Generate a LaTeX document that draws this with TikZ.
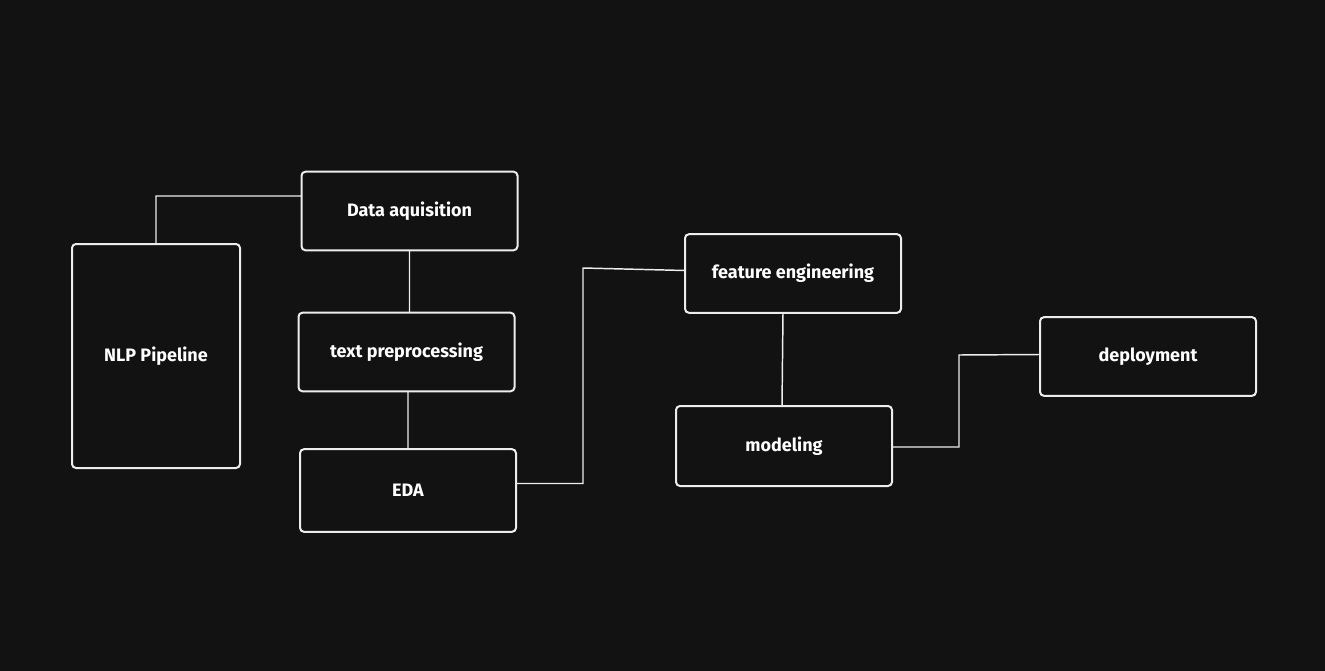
\documentclass[tikz,border=0pt]{standalone}
\usepackage{fontspec}
\setmainfont{Fira Sans}
\usepackage{xcolor}
\definecolor{background}{HTML}{121212}
\definecolor{stroke}{HTML}{EDEDED}
\usepackage{tikz}
\usetikzlibrary{positioning}
\usetikzlibrary{calc}

\begin{document}
\begin{tikzpicture}[x=0.75pt,y=-0.75pt,every node/.style={inner sep=1,outer sep=0,font=\fontsize{13.5}{15}\selectfont\bfseries,text=white},
	stage/.style={draw=stroke,line width=1.5pt,rounded corners=3pt,fill=background,minimum width=162pt,minimum height=59pt},
	link/.style={draw=stroke,line width=1.1pt}]
	\fill[background] (0,0) rectangle (1325,671);
	\node (nlp) [stage,minimum width=126pt,minimum height=168pt] at (156,356) {NLP Pipeline};
	\node (acq) [stage] at (409.5,211) {Data aquisition};
	\node (pre) [stage] at (406.5,352) {text preprocessing};
	\node (eda) [stage,minimum height=62pt] at (408,490.5) {EDA};
	\node (feat) [stage] at (793,273.5) {feature engineering};
	\node (model) [stage,minimum height=60pt] at (784,446) {modeling};
	\node (deploy) [stage] at (1148,356.5) {deployment};
	\path[link]
		(nlp.north) |- ($(acq.west)+(0,-15)$)
		(acq.south) -- (acq.south |- pre.north)
		($(pre.south)+(1.5,0)$) -- (eda.north)
		($(eda.east)+(0,-7)$) -| (583,268) -- ($(feat.west)+(0,-3)$)
		($(feat.south)+(-10,0)$) -- ($(model.north)+(-2,0)$)
		($(model.east)+(0,1)$) -| (959,355) -- ($(deploy.west)+(0,-2)$);
\end{tikzpicture}
\end{document}
